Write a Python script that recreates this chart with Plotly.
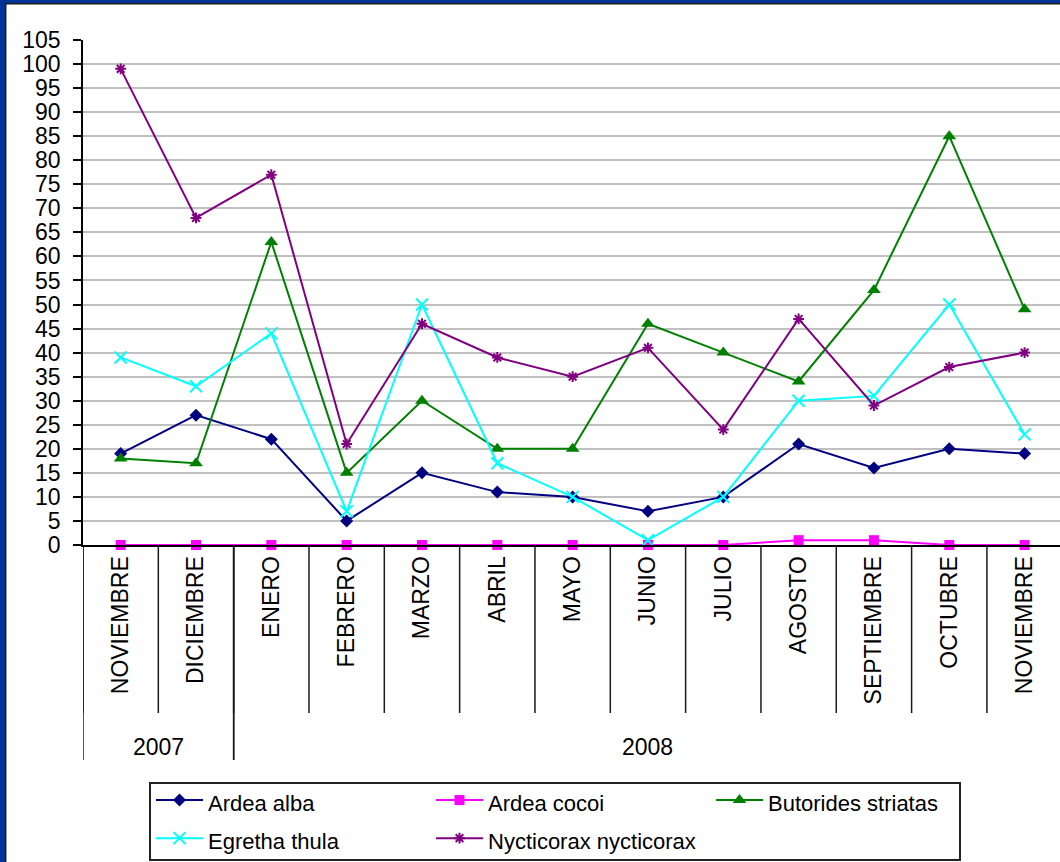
import plotly.graph_objects as go

# Monthly heron counts, Nov 2007 - Nov 2008
months = ["NOVIEMBRE", "DICIEMBRE", "ENERO", "FEBRERO", "MARZO", "ABRIL", "MAYO",
          "JUNIO", "JULIO", "AGOSTO", "SEPTIEMBRE", "OCTUBRE", "NOVIEMBRE"]
years = ["2007", "2007", "2008", "2008", "2008", "2008", "2008",
         "2008", "2008", "2008", "2008", "2008", "2008"]

ardea_alba = [19, 27, 22, 5, 15, 11, 10, 7, 10, 21, 16, 20, 19]
ardea_cocoi = [0, 0, 0, 0, 0, 0, 0, 0, 0, 1, 1, 0, 0]
butorides_striatas = [18, 17, 63, 15, 30, 20, 20, 46, 40, 34, 53, 85, 49]
egretha_thula = [39, 33, 44, 7, 50, 17, 10, 1, 10, 30, 31, 50, 23]
nycticorax_nycticorax = [99, 68, 77, 21, 46, 39, 35, 41, 24, 47, 29, 37, 40]

W, H = 1060, 862
ML, MR, MT, MB = 83, 0, 40, 317
PW, PH = W - ML - MR, H - MT - MB
FONT = "Arial, Liberation Sans, sans-serif"


def px_x(p):
    return (p - ML) / PW


def px_y(p):
    return (H - MB - p) / PH


x = list(range(len(months)))

series = [
    ("Ardea alba", ardea_alba, "#000080", dict(symbol="diamond", size=10, color="#000080")),
    ("Ardea cocoi", ardea_cocoi, "#FF00FF", dict(symbol="square", size=10, color="#FF00FF")),
    ("Butorides striatas", butorides_striatas, "#008000", dict(symbol="triangle-up", size=12, color="#008000")),
    ("Egretha thula", egretha_thula, "#00FFFF",
     dict(symbol="x-thin-open", size=12, color="#00FFFF", line=dict(width=2, color="#00FFFF"))),
    ("Nycticorax nycticorax", nycticorax_nycticorax, "#800080",
     dict(symbol="asterisk-open", size=9, color="#800080", line=dict(width=2, color="#800080"))),
]

fig = go.Figure()
for name, vals, col, mk in series:
    fig.add_trace(go.Scatter(
        x=x, y=vals, mode="lines+markers", cliponaxis=False,
        name=f'<span style="font-size:22px">{name}</span>',
        line=dict(color=col, width=2), marker=mk,
    ))

shapes = []
# month separators below the category axis
for k in range(len(months) + 1):
    shapes.append(dict(type="line", xref="x", yref="paper", x0=k - 0.5, x1=k - 0.5,
                       y0=0, y1=px_y(713), line=dict(color="#1a1a1a", width=1.5)))
# year group separators and labels
annotations = []
start = 0
for i in range(1, len(years) + 1):
    if i == len(years) or years[i] != years[start]:
        shapes.append(dict(type="line", xref="x", yref="paper", x0=start - 0.5, x1=start - 0.5,
                           y0=0, y1=px_y(760), line=dict(color="#1a1a1a", width=1.5)))
        shapes.append(dict(type="line", xref="x", yref="paper", x0=i - 0.5, x1=i - 0.5,
                           y0=0, y1=px_y(760), line=dict(color="#1a1a1a", width=1.5)))
        annotations.append(dict(xref="x", yref="paper", x=(start + i - 1) / 2, y=px_y(747),
                                text=years[start], showarrow=False,
                                font=dict(family=FONT, size=23, color="black"),
                                xanchor="center", yanchor="middle"))
        start = i

# legend frame
shapes.append(dict(type="rect", xref="paper", yref="paper",
                   x0=px_x(150), x1=px_x(960), y0=px_y(783), y1=px_y(860),
                   line=dict(color="#222222", width=2), fillcolor="rgba(0,0,0,0)"))

# blue window frame on the left and top
shapes.append(dict(type="rect", xref="paper", yref="paper", x0=px_x(0), x1=px_x(5),
                   y0=px_y(0), y1=px_y(H), line=dict(width=0), fillcolor="#00339A"))
shapes.append(dict(type="rect", xref="paper", yref="paper", x0=px_x(0), x1=px_x(W),
                   y0=px_y(0), y1=px_y(3), line=dict(width=0), fillcolor="#00339A"))
shapes.append(dict(type="line", xref="paper", yref="paper", x0=px_x(5.7), x1=px_x(5.7),
                   y0=px_y(3), y1=px_y(H), line=dict(color="#1a1a1a", width=1.5)))
shapes.append(dict(type="line", xref="paper", yref="paper", x0=px_x(5), x1=px_x(W),
                   y0=px_y(3.8), y1=px_y(3.8), line=dict(color="#1a1a1a", width=1.5)))

fig.update_layout(
    width=W, height=H,
    margin=dict(l=ML, r=MR, t=MT, b=MB, autoexpand=False),
    paper_bgcolor="white", plot_bgcolor="white",
    font=dict(family=FONT, color="black"),
    showlegend=True,
    legend=dict(
        orientation="h", x=px_x(151), y=px_y(776), xanchor="left", yanchor="top",
        bgcolor="rgba(0,0,0,0)", borderwidth=0,
        font=dict(family=FONT, size=27, color="black"),
        itemwidth=47, entrywidth=218, traceorder="normal",
    ),
    shapes=shapes, annotations=annotations,
)

fig.update_xaxes(
    range=[-0.5, 12.47], tickmode="array", tickvals=x, ticktext=months,
    tickangle=-90, tickfont=dict(family=FONT, size=23, color="black"),
    ticks="", ticklabelstandoff=0,
    showgrid=False, zeroline=False, showline=True, linecolor="black", linewidth=2,
)
fig.update_yaxes(
    range=[0, 105], dtick=5, tick0=0,
    tickfont=dict(family=FONT, size=23, color="black"),
    ticks="outside", ticklen=8, tickcolor="black", tickwidth=1.5, ticklabelstandoff=8,
    showgrid=True, gridcolor="#C0C0C0", gridwidth=1.8,
    zeroline=False, showline=True, linecolor="black", linewidth=1.5,
)

fig.write_html("out.html")
